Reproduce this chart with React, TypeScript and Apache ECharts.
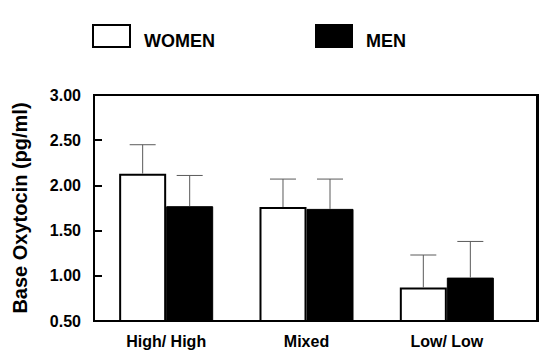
import React, { useEffect, useRef } from "react";
import * as echarts from "echarts";

const categories = ["High/ High", "Mixed", "Low/ Low"];
const womenValues = [2.13, 1.76, 0.87];
const womenSem = [0.32, 0.31, 0.36];
const menValues = [1.77, 1.74, 0.98];
const menSem = [0.34, 0.33, 0.4];
const yTicks = { min: 0.5, max: 3.0, interval: 0.5 };
const legendLabels = ["WOMEN", "MEN"];
const yTitle = "Base Oxytocin (pg/ml)";

const FONT = "'Liberation Sans', Arial, Helvetica, sans-serif";
const BAR_FRACTION = 0.335;

function errorSeries(values: number[], sem: number[], side: number) {
  return {
    type: "custom",
    z: 5,
    silent: true,
    data: values.map((v, i) => [i, v, v + sem[i]]),
    renderItem: (params: any, api: any) => {
      const idx = api.value(0);
      const base = api.coord([idx, api.value(1)]);
      const top = api.coord([idx, api.value(2)]);
      const band = api.size([1, 0])[0];
      const bw = band * BAR_FRACTION;
      const x = base[0] + side * bw / 2;
      const half = 13;
      const style = { stroke: "#5a5a5a", lineWidth: 1, fill: "none" };
      return {
        type: "group",
        children: [
          { type: "line", shape: { x1: x, y1: base[1], x2: x, y2: top[1] }, style },
          { type: "line", shape: { x1: x - half, y1: top[1], x2: x + half, y2: top[1] }, style },
        ],
      };
    },
  };
}

export default function App() {
  const ref = useRef<HTMLDivElement>(null);
  useEffect(() => {
    if (!ref.current) return;
    const chart = echarts.init(ref.current, null, { renderer: "svg" });
    chart.setOption({
      animation: false,
      backgroundColor: "#fff",
      textStyle: { fontFamily: FONT },
      grid: {
        left: 96,
        right: 37,
        top: 95,
        bottom: 34,
        show: false,
      },
      graphic: [
        {
          type: "rect",
          z: 10,
          shape: { x: 94, y: 95, width: 443, height: 226 },
          style: { fill: "none", stroke: "#000", lineWidth: 2 },
        },
        {
          type: "line",
          z: 10,
          shape: { x1: 537.5, y1: 94, x2: 537.5, y2: 322 },
          style: { stroke: "#000", lineWidth: 3 },
        },
        {
          type: "rect",
          shape: { x: 93, y: 25, width: 37, height: 22 },
          style: { fill: "#fff", stroke: "#000", lineWidth: 2 },
        },
        {
          type: "text",
          x: 144,
          y: 41,
          style: {
            text: legendLabels[0],
            font: `bold 18px ${FONT}`,
            fill: "#000",
            verticalAlign: "middle",
          },
        },
        {
          type: "rect",
          shape: { x: 315, y: 24, width: 38, height: 24 },
          style: { fill: "#000" },
        },
        {
          type: "text",
          x: 366,
          y: 41,
          style: {
            text: legendLabels[1],
            font: `bold 18px ${FONT}`,
            fill: "#000",
            verticalAlign: "middle",
          },
        },
      ],
      xAxis: {
        type: "category",
        data: categories,
        axisLine: { show: false },
        axisTick: { show: false },
        axisLabel: {
          color: "#000",
          fontWeight: "bold",
          fontSize: 16,
          fontFamily: FONT,
          margin: 12,
        },
      },
      yAxis: {
        type: "value",
        offset: 2,
        min: yTicks.min,
        max: yTicks.max,
        interval: yTicks.interval,
        name: yTitle,
        nameLocation: "middle",
        nameGap: 64,
        nameTextStyle: {
          color: "#000",
          fontWeight: "bold",
          fontSize: 20,
          fontFamily: FONT,
        },
        axisLine: { show: false },
        axisTick: { show: true, inside: true, length: 8, lineStyle: { color: "#000", width: 2 } },
        splitLine: { show: false },
        axisLabel: {
          color: "#000",
          fontWeight: "bold",
          fontSize: 16,
          fontFamily: FONT,
          margin: 13,
          formatter: (v: number) => v.toFixed(2),
        },
      },
      series: [
        {
          name: legendLabels[0],
          type: "bar",
          data: womenValues,
          barGap: "0%",
          barCategoryGap: "33%",
          itemStyle: { color: "#fff", borderColor: "#000", borderWidth: 2 },
        },
        {
          name: legendLabels[1],
          type: "bar",
          data: menValues,
          barGap: "0%",
          barCategoryGap: "33%",
          itemStyle: { color: "#000", borderColor: "#000", borderWidth: 1 },
        },
        errorSeries(womenValues, womenSem, -1),
        errorSeries(menValues, menSem, 1),
      ],
    });
    return () => chart.dispose();
  }, []);
  return (
    <div
      ref={ref}
      style={{ position: "fixed", left: 0, top: 0, width: 554, height: 355 }}
    />
  );
}
